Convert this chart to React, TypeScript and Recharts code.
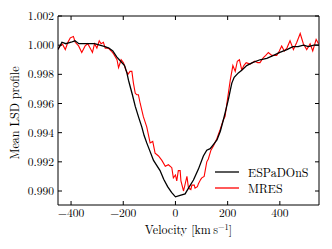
import React from 'react';
import { LineChart, Line, XAxis, YAxis, Legend } from 'recharts';

const espVel = [-450, -435, -420, -400, -385, -370, -350, -330, -310, -290, -270, -255, -240, -225, -210, -195, -186, -180, -174, -165, -154, -140, -129, -120, -110, -97, -84, -70, -59, -45, -30, -15, 0, 18, 37, 50, 69, 88, 107, 120, 133, 146, 159, 172, 184, 195, 203, 210, 216, 225, 241, 255, 273, 295, 324, 350, 376, 400, 427, 450, 470, 490, 510, 530, 550];
const espVal = [0.9997, 1.0002, 1.0001, 1.0002, 1.0003, 1.0001, 1.0001, 1.0001, 1.0001, 1.0, 0.9999, 0.9998, 0.9996, 0.9992, 0.9989, 0.9986, 0.9981, 0.9976, 0.9972, 0.9966, 0.9958, 0.995, 0.9944, 0.9938, 0.9933, 0.9927, 0.9921, 0.9917, 0.9914, 0.9908, 0.9903, 0.9899, 0.9896, 0.9897, 0.9898, 0.9902, 0.99075, 0.9915, 0.9924, 0.9928, 0.9929, 0.9932, 0.9935, 0.9941, 0.9949, 0.9957, 0.9963, 0.9969, 0.9974, 0.9978, 0.9981, 0.9983, 0.9986, 0.9988, 0.999, 0.9991, 0.9993, 0.9995, 0.9997, 0.9999, 0.9999, 1.0, 0.9999, 1.0, 1.0];

const mresVel = [-451, -442, -433, -422, -412, -403, -391, -384, -371, -359, -346, -336, -327, -318, -310, -301, -292, -285, -276, -269, -257, -246, -237, -224, -218, -208, -199, -190, -182, -174, -167, -161, -154, -148, -142, -135, -123, -110, -97, -87, -78, -65, -52, -39, -27, -14, -8, 0, 5, 11, 18, 21, 31, 44, 50, 59, 63, 72, 75, 84, 88, 97, 101, 110, 114, 120, 126, 136, 146, 159, 171, 184, 190, 197, 210, 220, 229, 237, 245, 254, 262, 271, 286, 304, 315, 324, 337, 346, 356, 369, 388, 398, 407, 417, 427, 439, 452, 465, 478, 490, 503, 516, 526, 539, 548];
const mresVal = [0.9997, 0.99995, 1.00007, 0.9997, 1.0002, 1.0005, 1.0006, 1.0002, 0.99995, 0.9995, 0.99995, 1.0001, 0.9998, 0.9995, 1.0001, 0.9998, 1.0003, 1.0001, 1.0002, 0.9998, 0.9998, 0.9996, 0.9994, 0.999, 0.99846, 0.999, 0.9988, 0.9983, 0.998, 0.9982, 0.9982, 0.9974, 0.9967, 0.9966, 0.9966, 0.996, 0.9951, 0.9944, 0.9933, 0.9934, 0.9926, 0.9924, 0.9921, 0.9917, 0.9918, 0.9916, 0.9909, 0.9911, 0.9907, 0.9914, 0.9914, 0.9907, 0.99, 0.991, 0.9902, 0.9901, 0.9904, 0.9904, 0.9902, 0.9903, 0.9905, 0.9908, 0.9909, 0.991, 0.9914, 0.992, 0.9922, 0.9928, 0.9931, 0.9936, 0.9942, 0.9949, 0.9951, 0.996, 0.9976, 0.9986, 0.9982, 0.9989, 0.999, 0.9983, 0.9986, 0.9988, 0.9987, 0.9989, 0.9988, 0.9988, 0.99915, 0.9993, 0.9995, 0.9993, 0.9993, 0.9996, 0.99995, 0.9996, 0.9998, 1.0003, 0.9997, 1.0002, 1.0008, 1.0001, 0.9997, 1.0001, 0.9996, 1.0004, 1.0001];

const xTicks = [-400, -200, 0, 200, 400];
const yTicks = [0.99, 0.992, 0.994, 0.996, 0.998, 1.0, 1.002];
const seriesNames = ['ESPaDOnS', 'MRES'];
const seriesColors = ['#000000', '#ff0000'];

const espData = espVel.map((v, i) => ({ v, y: espVal[i] }));
const mresData = mresVel.map((v, i) => ({ v, y: mresVal[i] }));

const FONT = '"Latin Modern Roman", "Liberation Serif", serif';
const xDomain = [-450, 550];
const yDomain = [0.98904, 1.002];

const fmtX = (v: number) => (v < 0 ? '\u2212' + Math.abs(v) : String(v));
const fmtY = (v: number) => v.toFixed(3);
const blank = () => '';

const tickStyle = { fontFamily: FONT, fontSize: 11.5, fill: '#000' };
const axisLine = { stroke: '#000', strokeWidth: 1 };

const LegendContent = () => (
  <div style={{ fontFamily: FONT, fontSize: 12, color: '#000' }}>
    {seriesNames.map((n, i) => (
      <div key={n} style={{ display: 'flex', alignItems: 'center', height: 16.5 }}>
        <svg width={24} height={4} style={{ display: 'block' }}>
          <line x1={0} y1={2} x2={24} y2={2} stroke={seriesColors[i]} strokeWidth={1.3} />
        </svg>
        <span style={{ marginLeft: 9, lineHeight: '16px', whiteSpace: 'nowrap' }}>{n}</span>
      </div>
    ))}
  </div>
);

export default function App() {
  return (
    <div style={{ position: 'absolute', left: 0, top: 0, width: 332, height: 249, background: '#fff' }}>
      <LineChart width={332} height={249} margin={{ top: 15, right: 12, bottom: 0, left: 0 }}>
        <XAxis
          xAxisId={0}
          type="number"
          dataKey="v"
          domain={xDomain}
          ticks={xTicks}
          allowDataOverflow
          height={44}
          tickSize={-4}
          tickMargin={8}
          tickFormatter={fmtX}
          tick={tickStyle}
          axisLine={axisLine}
          tickLine={{ stroke: '#000' }}
          label={{
            content: () => (
              <text x={188.5} y={234} textAnchor="middle" fontFamily={FONT} fontSize={12} fill="#000">
                Velocity [km{'\u2009'}s<tspan dy={-4.5} fontSize={8.5}>{'\u2212'}1</tspan>
                <tspan dy={4.5}>]</tspan>
              </text>
            ),
          }}
        />
        <XAxis
          xAxisId="top"
          orientation="top"
          type="number"
          dataKey="v"
          domain={xDomain}
          ticks={xTicks}
          allowDataOverflow
          height={1}
          tickSize={-4}
          tickFormatter={blank}
          axisLine={axisLine}
          tickLine={{ stroke: '#000' }}
        />
        <YAxis
          yAxisId={0}
          type="number"
          dataKey="y"
          domain={yDomain}
          ticks={yTicks}
          allowDataOverflow
          width={58}
          tickSize={-4}
          tickMargin={8}
          tickFormatter={fmtY}
          tick={tickStyle}
          axisLine={axisLine}
          tickLine={{ stroke: '#000' }}
          label={{
            content: () => (
              <text
                x={19}
                y={113}
                transform="rotate(-90 19 113)"
                textAnchor="middle"
                fontFamily={FONT}
                fontSize={12}
                fill="#000"
              >
                Mean LSD profile
              </text>
            ),
          }}
        />
        <YAxis
          yAxisId="right"
          orientation="right"
          type="number"
          dataKey="y"
          domain={yDomain}
          ticks={yTicks}
          allowDataOverflow
          width={1}
          tickSize={-4}
          tickFormatter={blank}
          axisLine={axisLine}
          tickLine={{ stroke: '#000' }}
        />
        <Legend
          layout="horizontal"
          verticalAlign="middle"
          align="center"
          content={LegendContent}
          wrapperStyle={{ left: 215, top: 163.5, width: 110, height: 34 }}
        />
        <Line
          data={mresData}
          dataKey="y"
          name={seriesNames[1]}
          type="linear"
          stroke={seriesColors[1]}
          strokeWidth={1.1}
          dot={false}
          isAnimationActive={false}
        />
        <Line
          data={espData}
          dataKey="y"
          name={seriesNames[0]}
          type="linear"
          stroke={seriesColors[0]}
          strokeWidth={1.3}
          dot={false}
          isAnimationActive={false}
        />
      </LineChart>
    </div>
  );
}
